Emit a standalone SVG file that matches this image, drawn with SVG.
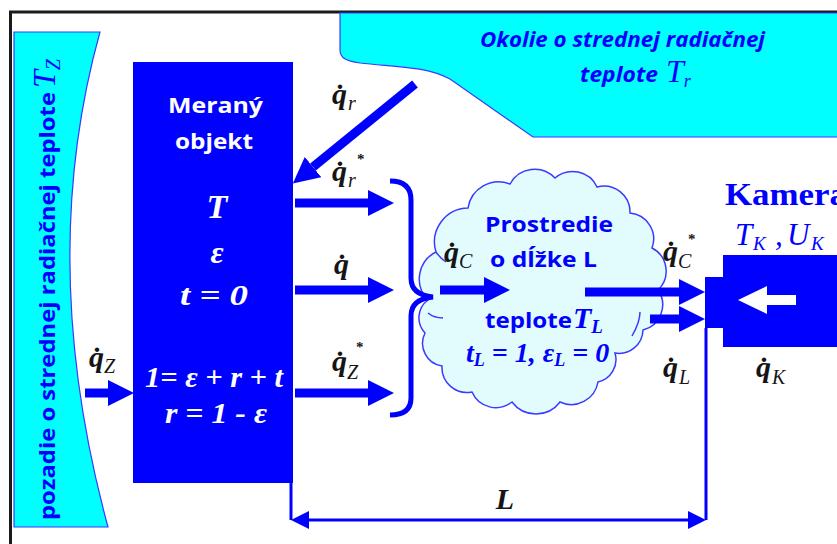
<svg xmlns="http://www.w3.org/2000/svg" width="837" height="544" viewBox="0 0 837 544">
<defs>
<style>
.cyan{fill:#00ffff;stroke:#3a3aff;stroke-width:1.2}
.blk{fill:#0000ff}
.shaft{stroke:#0000ff;stroke-width:9;fill:none;marker-end:url(#ah)}
.thin{stroke:#0000ff;stroke-width:3;fill:none}
.q{font-family:"Liberation Serif",serif;font-style:italic;font-weight:bold;font-size:30px;fill:#151515}
.sub{font-size:20px;font-weight:normal}
.star{font-size:15px;font-style:normal}
.wsans{font-family:"Open Sans","Liberation Sans",sans-serif;font-weight:bold;font-size:21px;fill:#ffffff}
.wser{font-family:"Liberation Serif",serif;font-style:italic;font-weight:bold;fill:#ffffff}
.bsans{font-family:"Open Sans","Liberation Sans",sans-serif;font-weight:bold;font-size:21px;fill:#0000ff}
.bser{font-family:"Liberation Serif",serif;font-style:italic;fill:#0000ff}
</style>
<marker id="ah" markerUnits="userSpaceOnUse" viewBox="0 0 26 26" markerWidth="26" markerHeight="26" refX="0" refY="13" orient="auto"><path d="M0,0L26,13L0,26Z" fill="#0000ff"/></marker>
<marker id="ad" markerUnits="userSpaceOnUse" viewBox="0 0 18 18" markerWidth="18" markerHeight="18" refX="0" refY="9" orient="auto-start-reverse"><path d="M0,0L18,9L0,18Z" fill="#0000ff"/></marker>
</defs>
<rect x="0" y="0" width="837" height="544" fill="#ffffff"/>
<rect x="10.5" y="12" width="840" height="540" fill="#ffffff" stroke="#1a1a1a" stroke-width="3"/>

<g id="pozadie">
<path class="cyan" d="M14,32 L100,32 Q36,262 108,527 L14,527 Z"/>
<text class="bsans" font-size="25" transform="translate(55,520) rotate(-90)" textLength="428" lengthAdjust="spacingAndGlyphs">pozadie o strednej radiačnej teplote</text>
<text class="bser" font-size="32" transform="translate(55,88) rotate(-90)">T<tspan font-size="20" dy="5">Z</tspan></text>
</g>

<g id="okolie">
<path class="cyan" d="M340,13 V50 C340,58 346,61 360,63 C395,67 425,66 450,79 L533,137 H840 V13 Z"/>
<text class="bsans" font-style="italic" font-size="22" x="480" y="47" textLength="285" lengthAdjust="spacingAndGlyphs">Okolie o strednej radiačnej</text>
<text class="bsans" font-style="italic" font-size="22" x="580" y="82" textLength="78" lengthAdjust="spacingAndGlyphs">teplote</text>
<text class="bser" font-size="32" x="666" y="82">T<tspan font-size="18" dy="5">r</tspan></text>
</g>

<g id="objekt">
<rect class="blk" x="133" y="62" width="160" height="421"/>
<text class="wsans" x="168" y="113" textLength="95" lengthAdjust="spacingAndGlyphs">Meraný</text>
<text class="wsans" x="175" y="149" textLength="78" lengthAdjust="spacingAndGlyphs">objekt</text>
<text class="wser" font-size="34" x="217" y="218" text-anchor="middle">T</text>
<text class="wser" font-size="32" x="217" y="263" text-anchor="middle">ε</text>
<text class="wser" font-size="30" x="180" y="305" textLength="68" lengthAdjust="spacingAndGlyphs">t = 0</text>
<text class="wser" font-size="30" x="145" y="387" textLength="138" lengthAdjust="spacingAndGlyphs">1= ε + r + t</text>
<text class="wser" font-size="30" x="165" y="423" textLength="102" lengthAdjust="spacingAndGlyphs">r = 1 - ε</text>
</g>

<g id="prostredie">
<path d="M428,300 A30,30 0 0 1 436,252 A34,34 0 0 1 468,208 A31,31 0 0 1 510,184 A28,28 0 0 1 555,178 A27,27 0 0 1 597,187 A26,26 0 0 1 630,213 A26,26 0 0 1 652,248 A26,26 0 0 1 658,290 A26,26 0 0 1 643,330 A24,24 0 0 1 615,353 A23,23 0 0 1 598,382 A27,27 0 0 1 560,402 A30,30 0 0 1 512,402 A26,26 0 0 1 472,392 A25,25 0 0 1 442,366 A23,23 0 0 1 425,333 A22,22 0 0 1 428,300 Z" fill="#e2fbfd" stroke="#3a3aff" stroke-width="1.5"/>
<path d="M428,313 Q434,318 443,318 M632,336 Q640,322 640,312 M436,252 Q440,258 446,262" fill="none" stroke="#3a3aff" stroke-width="1.5"/>
<text class="bsans" x="485" y="232" textLength="128" lengthAdjust="spacingAndGlyphs">Prostredie</text>
<text class="bsans" x="490" y="267" textLength="107" lengthAdjust="spacingAndGlyphs">o dĺžke L</text>
<text class="bsans" x="485" y="328" textLength="87" lengthAdjust="spacingAndGlyphs">teplote</text>
<text class="bser" font-weight="bold" font-size="30" x="573" y="328">T<tspan font-size="19" dy="5">L</tspan></text>
<text class="bser" font-weight="bold" font-size="28" x="466" y="362">t<tspan font-size="18" dy="4">L</tspan><tspan dy="-4"> = 1, ε</tspan><tspan font-size="18" dy="4">L</tspan><tspan dy="-4"> = 0</tspan></text>
</g>

<g id="kamera">
<rect class="blk" x="705" y="277" width="20" height="51"/>
<rect class="blk" x="723" y="255" width="120" height="92"/>
<path d="M738,300 L767,286 L767,295 L796,295 L796,305 L767,305 L767,314 Z" fill="#ffffff"/>
<text font-family="'Liberation Serif',serif" font-weight="bold" font-size="31" fill="#0000ff" x="725" y="205" textLength="122" lengthAdjust="spacingAndGlyphs">Kamera</text>
<text class="bser" font-size="31" x="735" y="245">T<tspan font-size="19" x="753" y="250">K</tspan><tspan x="775" y="245">,</tspan><tspan x="787" y="245">U</tspan><tspan font-size="19" x="811" y="250">K</tspan></text>
</g>

<g id="connectors">
<line class="shaft" x1="415" y1="84" x2="313" y2="167"/>
<line class="shaft" x1="295" y1="203" x2="368" y2="203"/>
<line class="shaft" x1="295" y1="290" x2="368" y2="290"/>
<line class="shaft" x1="295" y1="393" x2="368" y2="393"/>
<line class="shaft" x1="85" y1="393" x2="108" y2="393"/>
<path d="M390,181 Q411,181 411,200 V278 Q411,295 433,297 Q411,299 411,316 V398 Q411,415 390,415" fill="none" stroke="#0000ff" stroke-width="5"/>
<line class="shaft" x1="440" y1="290" x2="484" y2="290"/>
<line class="shaft" x1="585" y1="292" x2="679" y2="292"/>
<line class="shaft" x1="650" y1="319" x2="679" y2="319"/>
<path class="thin" d="M291,483 V520 M706,328 V520"/>
<line class="thin" x1="309" y1="520" x2="688" y2="520" marker-start="url(#ad)" marker-end="url(#ad)"/>
</g>

<g id="labels">
<text class="q" x="332" y="104">q&#x307;<tspan class="sub" x="348" y="110">r</tspan></text>
<text class="q" x="332" y="181">q&#x307;<tspan class="star" x="357" y="164">*</tspan><tspan class="sub" x="348" y="187">r</tspan></text>
<text class="q" x="334" y="274">q&#x307;</text>
<text class="q" x="332" y="371">q&#x307;<tspan class="star" x="356" y="352">*</tspan><tspan class="sub" x="347" y="379">Z</tspan></text>
<text class="q" x="89" y="367">q&#x307;<tspan class="sub" x="104" y="373">Z</tspan></text>
<text class="q" x="444" y="262">q&#x307;<tspan class="sub" x="459" y="268">C</tspan></text>
<text class="q" x="663" y="261">q&#x307;<tspan class="star" x="688" y="244">*</tspan><tspan class="sub" x="678" y="268">C</tspan></text>
<text class="q" x="663" y="377">q&#x307;<tspan class="sub" x="679" y="384">L</tspan></text>
<text class="q" x="756" y="377">q&#x307;<tspan class="sub" x="772" y="384">K</tspan></text>
<text class="q" font-size="25" x="505" y="509" text-anchor="middle">L</text>
</g>
</svg>
